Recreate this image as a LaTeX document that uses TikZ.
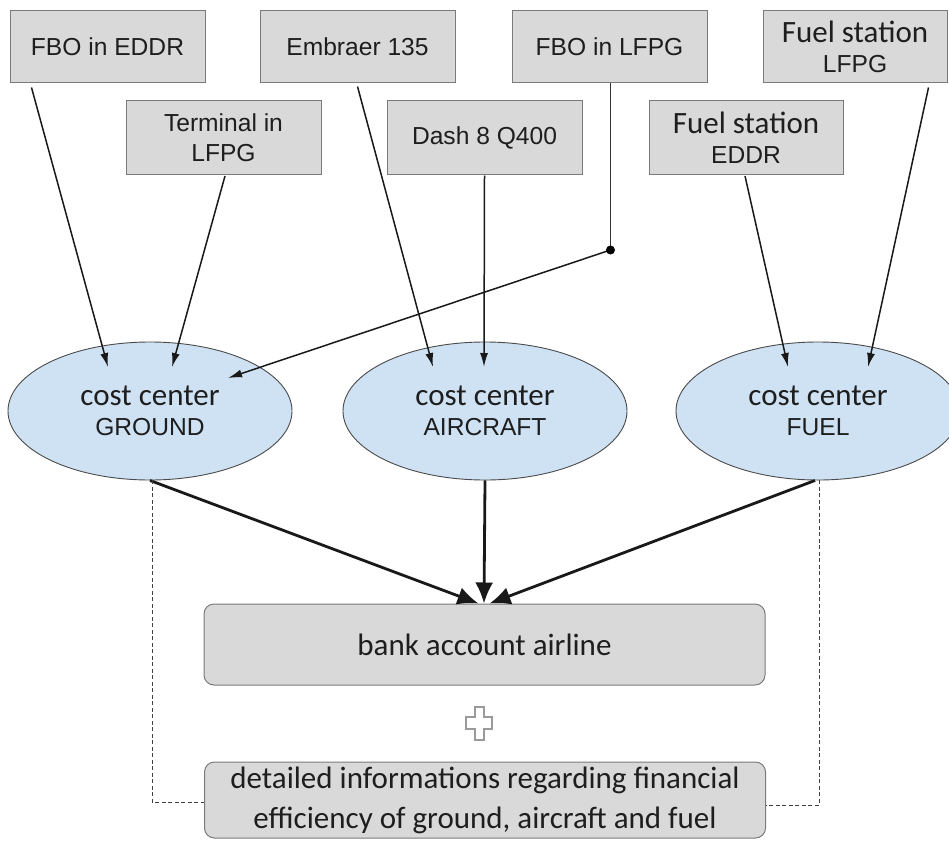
\documentclass[tikz,border=0pt]{standalone}
\usepackage{fontspec}
\setmainfont{Carlito}
\newfontfamily\calfont{Carlito}
\newfontfamily\arifont{Liberation Sans}
\usetikzlibrary{arrows.meta,shapes.geometric,calc}
\newcommand\calt{\calfont\fontsize{31}{30}\selectfont}
\newcommand\arit{\arifont\fontsize{24.6}{30}\selectfont}
\definecolor{boxfill}{HTML}{D9D9D9}
\definecolor{boxline}{HTML}{7A7A7A}
\definecolor{ellfill}{HTML}{CFE2F3}
\definecolor{ellline}{HTML}{4A4A4A}
\definecolor{txt}{HTML}{1E1E1E}
\definecolor{plusline}{HTML}{9A9A9A}
\begin{document}
\begin{tikzpicture}[x=1pt,y=-1pt,
  srcbox/.style={draw=boxline, fill=boxfill, line width=1pt, minimum width=195pt,
    minimum height=72pt, inner sep=0pt, font=\arit, text=txt, align=center},
  ccenter/.style={ellipse, draw=ellline, fill=ellfill, line width=0.9pt,
    minimum width=284pt, minimum height=138pt, inner sep=0pt, align=center,
    font=\arit, text=txt},
  outbox/.style={draw=boxline, fill=boxfill, rounded corners=10pt, line width=1pt,
    minimum width=561pt, inner sep=0pt, align=center, text=txt,
    font=\calfont\fontsize{31}{40}\selectfont},
  feedarrow/.style={line width=1.5pt, draw=black!90, -{Latex[length=14pt,width=8pt]}},
  sumarrow/.style={line width=2.8pt, draw=black!90, -{Latex[length=21pt,width=18pt]}},
  infoline/.style={draw=black!75, line width=0.8pt, dash pattern=on 4pt off 2.5pt}
]
\useasboundingbox (0,0) rectangle (949,840);

% source boxes
\node[srcbox] (eddr) at (107.5,47) {FBO in EDDR};
\node[srcbox] (emb)  at (357.5,47) {Embraer 135};
\node[srcbox] (fbol) at (609.5,47) {FBO in LFPG};
\node[srcbox, minimum width=184pt] (fsl) at (855,47) {{\calt Fuel station}\\LFPG};
\node[srcbox, minimum height=73pt] (term) at (223.5,137.5) {Terminal in\\LFPG};
\node[srcbox, minimum height=73pt] (dash) at (484.5,137.5) {Dash 8 Q400};
\node[srcbox, minimum width=194pt, minimum height=73pt] (fse) at (746,137.5) {{\calt Fuel station}\\EDDR};

% cost centers
\node[ccenter] (gnd)  at (150,411) {{\calt cost center}\\GROUND};
\node[ccenter] (air)  at (485,411) {{\calt cost center}\\AIRCRAFT};
\node[ccenter] (fuel) at (818,411) {{\calt cost center}\\FUEL};

% outputs
\node[outbox, minimum height=81pt] (bank) at (484.5,644.5) {bank account airline};
\node[outbox, minimum height=76pt] (det) at (485,800) {detailed informations regarding financial\\efficiency of ground, aircraft and fuel};

% plus sign
\draw[plusline, line width=1.1pt, fill=white, line join=miter]
  (475,707) -- (484,707) -- (484,717) -- (492,717) -- (492,729) -- (484,729)
  -- (484,740) -- (475,740) -- (475,729) -- (466,729) -- (466,717) -- (475,717) -- cycle;

% feed arrows
\draw[feedarrow] ([xshift=22pt,yshift=-4pt]eddr.south west) -- ([xshift=-42pt,yshift=44pt]gnd.center);
\draw[feedarrow] ([xshift=1.5pt,yshift=-1.5pt]term.south) -- ([xshift=22pt,yshift=44pt]gnd.center);
\draw[feedarrow] ([yshift=-3pt]emb.south) -- ([xshift=-52pt,yshift=44pt]air.center);
\draw[feedarrow] ([yshift=-1pt]dash.south) -- ([xshift=-1pt,yshift=44pt]air.center);
\coordinate (junc) at (610.5,250);
\draw[line width=1.5pt, draw=black!80] ([xshift=1pt]fbol.south) -- (junc);
\draw[feedarrow] (junc) -- ([xshift=78pt,yshift=33pt]gnd.center);
\fill[black] (junc) circle (4.5pt);
\draw[feedarrow] ([xshift=-1pt,yshift=-1.5pt]fse.south) -- ([xshift=-30pt,yshift=44pt]fuel.center);
\draw[feedarrow] ([xshift=-19pt,yshift=-4pt]fsl.south east) -- ([xshift=50pt,yshift=44pt]fuel.center);

% sum arrows
\draw[sumarrow] (gnd.south) -- ([xshift=-6pt]bank.north);
\draw[sumarrow] (air.south) -- ([xshift=-0.5pt]bank.north);
\draw[sumarrow] ([xshift=-3pt]fuel.south) -- ([xshift=5pt]bank.north);

% dashed info lines
\draw[infoline] ([xshift=2pt]gnd.south) |- ([yshift=-2pt]det.west);
\draw[infoline] ([xshift=1pt]fuel.south) |- ([yshift=-5pt]det.east);
\end{tikzpicture}
\end{document}
